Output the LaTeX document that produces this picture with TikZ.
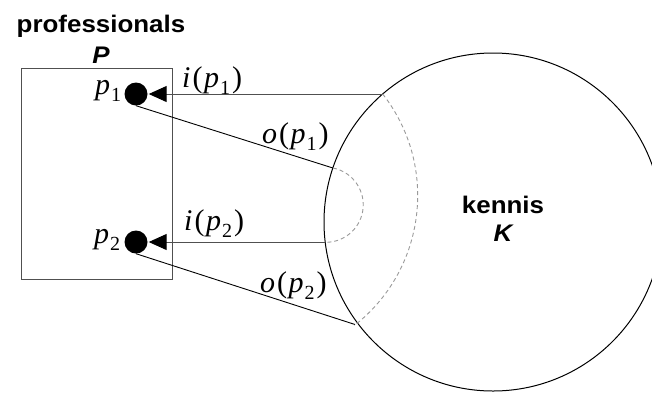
\documentclass[tikz,border=0pt]{standalone}
\usepackage{fontspec}
\setmainfont{Liberation Serif}
\newfontfamily\sfb[FakeStretch=1.08]{Liberation Sans}
\usetikzlibrary{arrows.meta}
\definecolor{linegray}{HTML}{505050}
\definecolor{dashgray}{HTML}{9A9A9A}
\newcommand{\subnum}[1]{\raisebox{-0.25em}{\fontsize{20}{22}\selectfont #1}}
\newcommand{\mylbl}[2]{\textit{#1}\kern2pt(\kern1.5pt\textit{p}\kern1pt\subnum{#2}\kern2pt)}
\newcommand{\plbl}[1]{\textit{p}\kern1pt\subnum{#1}}
\begin{document}
\begin{tikzpicture}[x=1pt,y=-1pt,
  sftext/.style={font=\sfb\bfseries\fontsize{24}{28}\selectfont, inner sep=0pt},
  sfital/.style={font=\sfb\bfseries\itshape\fontsize{24}{28}\selectfont, inner sep=0pt},
  mtext/.style={font=\fontsize{30}{32}\selectfont, inner sep=0pt, anchor=base west},
  dot/.style={circle, fill=black, minimum size=23pt, inner sep=0pt},
  iline/.style={draw=linegray, line width=1pt, -{Triangle[length=18pt,width=16pt,black]}, shorten >=1pt},
  oline/.style={draw=black, line width=0.9pt},
  dashedarc/.style={draw=dashgray, line width=0.9pt, dash pattern=on 4pt off 3pt}]
\useasboundingbox (0,0) rectangle (652,392);
\node[draw=linegray, line width=1pt, minimum width=151pt, minimum height=211pt, inner sep=0pt, anchor=north west] (P) at (21,68) {};
\node[circle, draw=black, line width=1pt, minimum size=338pt, inner sep=0pt] (K) at (493,222) {};
\node[dot] (p1) at (136,94) {};
\node[dot] (p2) at (136,242) {};
\node[sftext, anchor=base] (prof) at (101,32) {professionals};
\node[sfital, anchor=base] (Plab) at (101,63) {P};
\node[sftext, anchor=base] (klab) at (503,213) {kennis};
\node[sfital, anchor=base] (Klab) at (503,241) {K};
\coordinate (ki1) at (382.7,94);
\coordinate (ki2) at (325.2,242);
\coordinate (ko1) at (332.9,168);
\coordinate (ko2) at (355,324.5);
\draw[iline] (ki1) -- (p1);
\draw[iline] (ki2) -- (p2);
\draw[oline] (p1.south) -- (ko1);
\draw[oline] (p2.south) -- (ko2);
\draw[dashedarc] (ki1) arc[start angle=38, end angle=-52, radius=165pt];
\draw[dashedarc] (ko1) arc[start angle=79, end angle=-90, radius=37.5pt];
\node[mtext] (li1) at (182,87) {\mylbl{i}{1}};
\node[mtext] (lo1) at (262,143) {\mylbl{o}{1}};
\node[mtext] (li2) at (184,230) {\mylbl{i}{2}};
\node[mtext] (lo2) at (260,292) {\mylbl{o}{2}};
\node[mtext] (lp1) at (95,94) {\plbl{1}};
\node[mtext] (lp2) at (94,243) {\plbl{2}};
\end{tikzpicture}
\end{document}
